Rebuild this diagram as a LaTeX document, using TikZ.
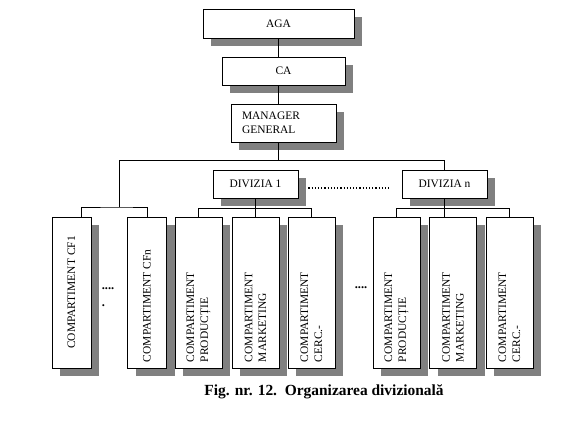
\documentclass[tikz,border=0pt]{standalone}
\usepackage{fontspec}
\setmainfont{Liberation Serif}
\usepackage{graphicx}
\usepackage{tikz}
\usetikzlibrary{calc}

\newcommand{\vtxt}[2][\raggedright]{\rotatebox{90}{\parbox{139bp}{#1#2}}}

\begin{document}
\begin{tikzpicture}[
  x=1bp, y=-1bp,
  box/.style={rectangle, draw, fill=white, line width=0.8bp, inner sep=0pt,
    font=\fontsize{11.5}{14}\selectfont, align=center,
    preaction={fill=black!50, transform canvas={shift={(8bp,-8bp)}}}},
  vbox/.style={box, minimum height=151bp},
  conn/.style={line width=0.8bp}
]
\useasboundingbox[fill=white] (0,0) rectangle (576,429);

% Level 1
\node[box, minimum width=151bp, minimum height=29bp] (aga) at (278.5,23.5) {AGA};
\node[box, minimum width=123bp, minimum height=28bp] (ca) at (283.5,71) {CA};
\node[box, minimum width=105bp, minimum height=38bp, text width=83bp, align=left] (mgr) at (283.5,123) {MANAGER\\GENERAL};

% Level 2
\node[box, minimum width=85bp, minimum height=28bp] (div1) at (255.5,184) {DIVIZIA 1};
\node[box, minimum width=85bp, minimum height=28bp] (divn) at (444.5,184) {DIVIZIA n};

% Level 3
\node[vbox, minimum width=39bp] (cf1) at (71.5,292.5) {\vtxt[\centering]{COMPARTIMENT CF1}};
\node[vbox, minimum width=39bp] (cfn) at (147,292.5) {\vtxt{COMPARTIMENT CFn}};
\node[vbox, minimum width=47bp] (prod1) at (198.5,292.5) {\vtxt{COMPARTIMENT\\PRODUCȚIE}};
\node[vbox, minimum width=47bp] (mkt1) at (255.5,292.5) {\vtxt{COMPARTIMENT\\MARKETING}};
\node[vbox, minimum width=47bp] (cerc1) at (311.5,292.5) {\vtxt{COMPARTIMENT\\CERC.-}};
\node[vbox, minimum width=47bp] (prodn) at (396.5,292.5) {\vtxt{COMPARTIMENT\\PRODUCȚIE}};
\node[vbox, minimum width=47bp] (mktn) at (453,292.5) {\vtxt{COMPARTIMENT\\MARKETING}};
\node[vbox, minimum width=47bp] (cercn) at (509.5,292.5) {\vtxt{COMPARTIMENT\\CERC.-}};

% dots
\node[font=\fontsize{12.5}{14}\selectfont\bfseries, align=left] (dots1) at (108,297) {....\\[3bp].};
\node[font=\fontsize{12.5}{14}\selectfont\bfseries] (dots2) at (361,288) {....};

% caption
\node[font=\fontsize{15.5}{18}\selectfont\bfseries] (cap) at (324,392) {Fig. nr. 12.\ \ Organizarea divizională};

% connectors
\coordinate (busL) at (119,160);
\draw[conn] (aga.south) -- (aga.south |- ca.north);
\draw[conn] (aga.south |- ca.south) -- (aga.south |- mgr.north);
\draw[conn] (aga.south |- mgr.south) -- (aga.south |- busL);
\draw[conn] (busL) -- (divn.north |- busL) -- (divn.north);
\draw[conn] (busL) -- ++(0,47) coordinate (b0);
\draw[conn] ([xshift=9.5bp]cf1.north) |- (b0) -| (cfn.north);
\draw[conn] (div1.south) -- ++(0,10) coordinate (b1);
\draw[conn] (div1.south) -- (div1.south |- mkt1.north);
\draw[conn] (prod1.north) |- (b1) -| (cerc1.north);
\draw[conn] (divn.south) -- ++(0,10) coordinate (bn);
\draw[conn] (divn.south) -- (divn.south |- mktn.north);
\draw[conn] (prodn.north) |- (bn) -| (cercn.north);
\draw[line width=1.2bp, dotted] ([xshift=10bp,yshift=-4bp]div1.east) -- ([xshift=-12bp,yshift=-4bp]divn.west);
\end{tikzpicture}
\end{document}
